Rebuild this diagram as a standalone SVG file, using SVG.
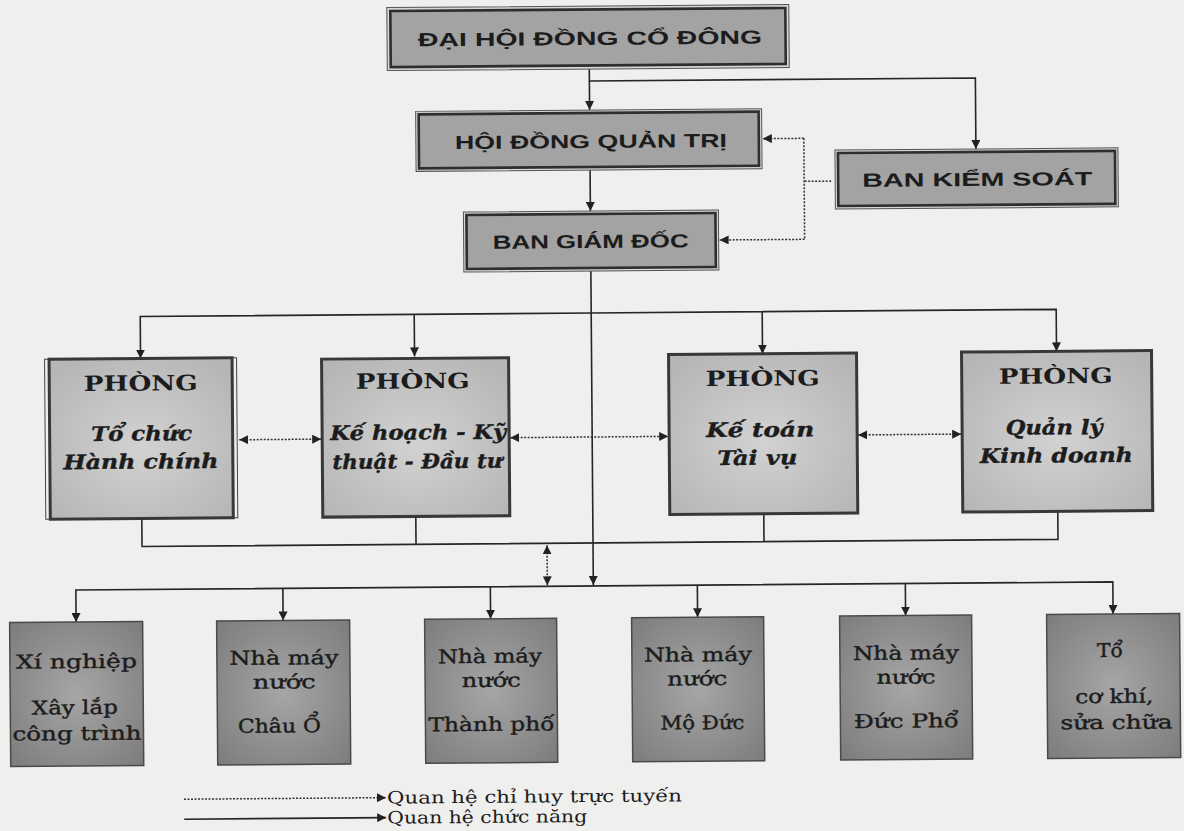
<svg xmlns="http://www.w3.org/2000/svg" width="1184" height="831" viewBox="0 0 1184 831">
<style>
.bg{fill:#efefed}
.tout{fill:#d6d6d4;stroke:#555;stroke-width:1}
.tin{fill:#a3a3a3;stroke:#2e2e2e;stroke-width:2.6}
.ttx{font-family:"Liberation Sans",Arial,sans-serif;font-weight:bold;font-size:19px;fill:#1c1c1c;text-anchor:middle}
.pbox{fill:url(#gp);stroke:#383838;stroke-width:3}
.pthin{fill:none;stroke:#444;stroke-width:1}
.ph{font-family:"DejaVu Serif","Liberation Serif",serif;font-weight:bold;font-size:21px;fill:#1c1c1c;text-anchor:middle}
.pi{font-family:"DejaVu Serif","Liberation Serif",serif;font-weight:bold;font-style:italic;font-size:20px;fill:#1c1c1c;text-anchor:middle;stroke:#1c1c1c;stroke-width:0.4}
.bbox{fill:url(#gb);stroke:#4a4a4a;stroke-width:1.5}
.bt{font-family:"DejaVu Serif","Liberation Serif",serif;font-size:19px;fill:#1c1c1c;text-anchor:middle;stroke:#1c1c1c;stroke-width:0.4}
.ln{fill:none;stroke:#262626;stroke-width:1.6}
.dt{fill:none;stroke:#333;stroke-width:1.5;stroke-dasharray:2 1.5}
.lg{font-family:"DejaVu Serif","Liberation Serif",serif;font-size:17px;fill:#1c1c1c}
</style>
<defs>
<marker id="ah" viewBox="0 0 10 10" refX="10" refY="5" markerWidth="9" markerHeight="9" markerUnits="userSpaceOnUse" orient="auto-start-reverse"><path d="M0,0 L10,5 L0,10 z" fill="#222"/></marker>
<radialGradient id="gp" cx="50%" cy="55%" r="65%"><stop offset="0" stop-color="#d2d2d2"/><stop offset="1" stop-color="#b6b6b6"/></radialGradient>
<radialGradient id="gb" cx="50%" cy="50%" r="70%"><stop offset="0" stop-color="#a6a6a6"/><stop offset="1" stop-color="#7c7c7c"/></radialGradient>
</defs>
<rect class="bg" x="0" y="0" width="1184" height="831"/>
<g transform="rotate(-0.45 592 415)">
<g id="connectors">
<path class="ln" d="M592,69 V110" marker-end="url(#ah)"/>
<path class="ln" d="M592,81 H978 V152" marker-end="url(#ah)"/>
<path class="ln" d="M592,170 V211" marker-end="url(#ah)"/>
<path class="ln" d="M592,271 V585" marker-end="url(#ah)"/>
<path class="dt" d="M833,183 H806"/>
<path class="dt" d="M806,140 V241"/>
<path class="dt" d="M806,140 H765" marker-end="url(#ah)"/>
<path class="dt" d="M806,241 H721" marker-end="url(#ah)"/>
<path class="ln" d="M592,313 H141 V355" marker-end="url(#ah)"/>
<path class="ln" d="M592,313 H1057 V355" marker-end="url(#ah)"/>
<path class="ln" d="M415,313 V355" marker-end="url(#ah)"/>
<path class="ln" d="M763,313 V355" marker-end="url(#ah)"/>
<path class="dt" d="M239,437 H321" marker-start="url(#ah)" marker-end="url(#ah)"/>
<path class="dt" d="M510,437 H668" marker-start="url(#ah)" marker-end="url(#ah)"/>
<path class="dt" d="M858,437 H961" marker-start="url(#ah)" marker-end="url(#ah)"/>
<path class="ln" d="M141,515 V543 H1057 V515"/>
<path class="ln" d="M415,515 V543"/>
<path class="ln" d="M763,515 V543"/>
<path class="dt" d="M546,545 V585" marker-start="url(#ah)" marker-end="url(#ah)"/>
<path class="ln" d="M74.5,618 V586 H1111.5 V618" marker-start="url(#ah)" marker-end="url(#ah)"/>
<path class="ln" d="M281.5,586 V618" marker-end="url(#ah)"/>
<path class="ln" d="M489,586 V618" marker-end="url(#ah)"/>
<path class="ln" d="M696,586 V618" marker-end="url(#ah)"/>
<path class="ln" d="M904,586 V618" marker-end="url(#ah)"/>
</g>
<g id="n-dhdcd">
<rect class="tout" x="390" y="6" width="402" height="63"/>
<rect class="tin" x="393.5" y="9.5" width="395" height="56"/>
<text class="ttx" x="593" y="45" textLength="344" lengthAdjust="spacingAndGlyphs">ĐẠI HỘI ĐỒNG CỔ ĐÔNG</text>
</g>
<g id="n-hdqt">
<rect class="tout" x="418" y="110" width="346" height="60"/>
<rect class="tin" x="421" y="113" width="340" height="54"/>
<text class="ttx" x="593" y="148" textLength="272" lengthAdjust="spacingAndGlyphs">HỘI ĐỒNG QUẢN TRỊ</text>
</g>
<g id="n-bks">
<rect class="tout" x="837" y="152" width="283" height="59"/>
<rect class="tin" x="840" y="155" width="277" height="53"/>
<text class="ttx" x="979" y="189" textLength="230" lengthAdjust="spacingAndGlyphs">BAN KIỂM SOÁT</text>
</g>
<g id="n-bgd">
<rect class="tout" x="465" y="211" width="255" height="60"/>
<rect class="tin" x="468" y="214" width="249" height="54"/>
<text class="ttx" x="592" y="248" textLength="196" lengthAdjust="spacingAndGlyphs">BAN GIÁM ĐỐC</text>
</g>
<g id="n-p1">
<rect class="pthin" x="45" y="355" width="192" height="160"/>
<rect class="pbox" x="49.5" y="355" width="183" height="160"/>
<text class="ph" x="141" y="387" textLength="114" lengthAdjust="spacingAndGlyphs">PHÒNG</text>
<text class="pi" x="141.5" y="437" textLength="101" lengthAdjust="spacingAndGlyphs">Tổ chức</text>
<text class="pi" x="140.5" y="465" textLength="155" lengthAdjust="spacingAndGlyphs">Hành chính</text>
</g>
<g id="n-p2">
<rect class="pbox" x="322" y="357" width="187" height="158"/>
<text class="ph" x="413" y="387" textLength="114" lengthAdjust="spacingAndGlyphs">PHÒNG</text>
<text class="pi" x="418" y="438" textLength="176" lengthAdjust="spacingAndGlyphs">Kế hoạch - Kỹ</text>
<text class="pi" x="417" y="467" textLength="170" lengthAdjust="spacingAndGlyphs">thuật - Đầu tư</text>
</g>
<g id="n-p3">
<rect class="pbox" x="669" y="355" width="188" height="160"/>
<text class="ph" x="763" y="387" textLength="114" lengthAdjust="spacingAndGlyphs">PHÒNG</text>
<text class="pi" x="760" y="438" textLength="108" lengthAdjust="spacingAndGlyphs">Kế toán</text>
<text class="pi" x="757" y="466" textLength="80" lengthAdjust="spacingAndGlyphs">Tài vụ</text>
</g>
<g id="n-p4">
<rect class="pbox" x="962" y="355" width="190" height="160"/>
<text class="ph" x="1056" y="387" textLength="114" lengthAdjust="spacingAndGlyphs">PHÒNG</text>
<text class="pi" x="1054" y="438" textLength="97" lengthAdjust="spacingAndGlyphs">Quản lý</text>
<text class="pi" x="1056" y="466" textLength="153" lengthAdjust="spacingAndGlyphs">Kinh doanh</text>
</g>
<g id="n-b1">
<rect class="bbox" x="8" y="618" width="133" height="144"/>
<text class="bt" x="74.5" y="664" textLength="121" lengthAdjust="spacingAndGlyphs">Xí nghiệp</text>
<text class="bt" x="72.5" y="710" textLength="86" lengthAdjust="spacingAndGlyphs">Xây lắp</text>
<text class="bt" x="74.5" y="736" textLength="129" lengthAdjust="spacingAndGlyphs">công trình</text>
</g>
<g id="n-b2">
<rect class="bbox" x="215" y="618" width="133" height="144"/>
<text class="bt" x="282" y="662" textLength="109" lengthAdjust="spacingAndGlyphs">Nhà máy</text>
<text class="bt" x="282" y="686" textLength="63" lengthAdjust="spacingAndGlyphs">nước</text>
<text class="bt" x="277" y="730" textLength="83" lengthAdjust="spacingAndGlyphs">Châu Ổ</text>
</g>
<g id="n-b3">
<rect class="bbox" x="423" y="618" width="132" height="144"/>
<text class="bt" x="488" y="662" textLength="104" lengthAdjust="spacingAndGlyphs">Nhà máy</text>
<text class="bt" x="489" y="686" textLength="59" lengthAdjust="spacingAndGlyphs">nước</text>
<text class="bt" x="489" y="730" textLength="126" lengthAdjust="spacingAndGlyphs">Thành phố</text>
</g>
<g id="n-b4">
<rect class="bbox" x="630" y="618" width="132" height="144"/>
<text class="bt" x="696" y="662" textLength="108" lengthAdjust="spacingAndGlyphs">Nhà máy</text>
<text class="bt" x="695" y="686" textLength="60" lengthAdjust="spacingAndGlyphs">nước</text>
<text class="bt" x="700" y="730" textLength="84" lengthAdjust="spacingAndGlyphs">Mộ Đức</text>
</g>
<g id="n-b5">
<rect class="bbox" x="838" y="618" width="132" height="144"/>
<text class="bt" x="904" y="662" textLength="106" lengthAdjust="spacingAndGlyphs">Nhà máy</text>
<text class="bt" x="904" y="686" textLength="59" lengthAdjust="spacingAndGlyphs">nước</text>
<text class="bt" x="904" y="730" textLength="105" lengthAdjust="spacingAndGlyphs">Đức Phổ</text>
</g>
<g id="n-b6">
<rect class="bbox" x="1045" y="618" width="133" height="144"/>
<text class="bt" x="1108" y="661" textLength="26" lengthAdjust="spacingAndGlyphs">Tổ</text>
<text class="bt" x="1112" y="707" textLength="78" lengthAdjust="spacingAndGlyphs">cơ khí,</text>
<text class="bt" x="1114" y="733" textLength="112" lengthAdjust="spacingAndGlyphs">sửa chữa</text>
</g>
<g id="legend">
<path class="dt" d="M181,796 H383" marker-end="url(#ah)"/>
<path class="ln" d="M181,816 H383" marker-end="url(#ah)"/>
<text class="lg" x="384" y="802" textLength="295" lengthAdjust="spacingAndGlyphs">Quan hệ chỉ huy trực tuyến</text>
<text class="lg" x="384" y="822" textLength="200" lengthAdjust="spacingAndGlyphs">Quan hệ chức năng</text>
</g>
</g>
</svg>
